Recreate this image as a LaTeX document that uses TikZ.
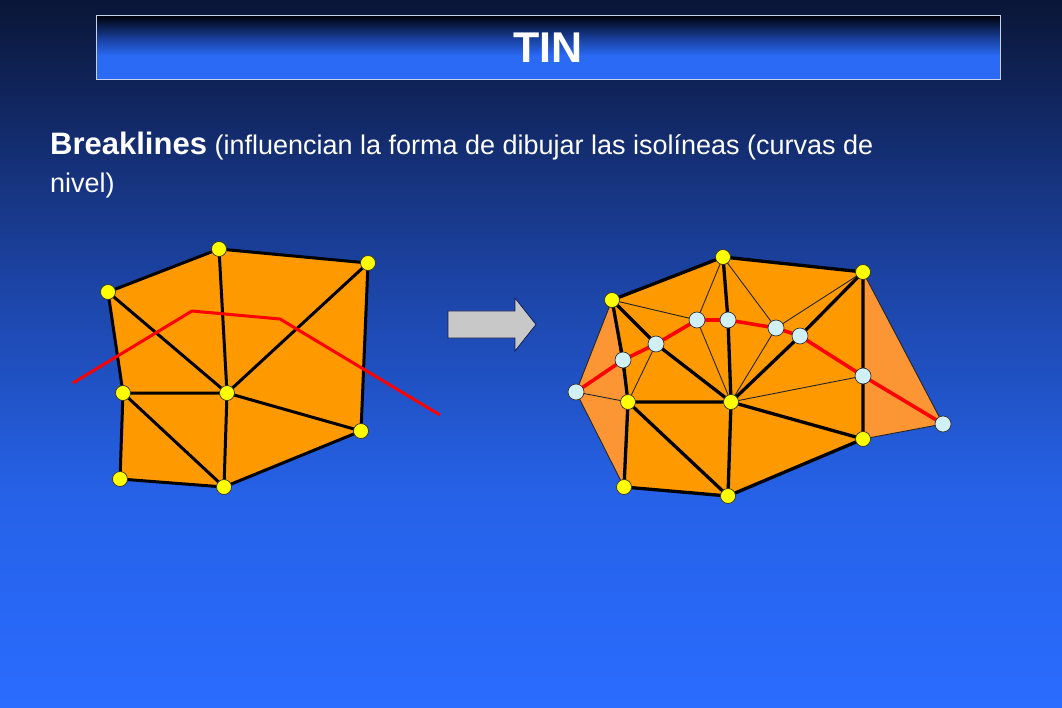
\documentclass[tikz,border=0pt]{standalone}
\usepackage{fontspec}
\setmainfont{Liberation Sans}
\definecolor{bgA}{RGB}{42,108,255}
\definecolor{bgB}{RGB}{38,98,232}
\definecolor{bgC}{RGB}{28,68,165}
\definecolor{bgD}{RGB}{18,40,100}
\definecolor{bgE}{RGB}{10,22,55}
\definecolor{tiBlue}{RGB}{42,106,245}
\definecolor{tiMid}{RGB}{25,65,160}
\definecolor{tiTop}{RGB}{0,2,12}
\definecolor{meshOrange}{RGB}{255,153,0}
\definecolor{meshLight}{RGB}{252,150,52}
\definecolor{vYellow}{RGB}{255,255,0}
\definecolor{vBlue}{RGB}{208,240,246}
\definecolor{arrowGray}{RGB}{200,200,200}
\definecolor{arrowEdge}{RGB}{20,30,80}
\definecolor{titleEdge}{RGB}{200,210,235}
\pgfdeclareverticalshading{bgshade}{100bp}{color(0bp)=(bgA); color(25bp)=(bgA); color(40bp)=(bgB); color(55bp)=(bgC); color(67bp)=(bgD); color(75bp)=(bgE); color(100bp)=(bgE)}
\pgfdeclareverticalshading{titleshade}{100bp}{color(0bp)=(tiBlue); color(25bp)=(tiBlue); color(44bp)=(tiBlue); color(57bp)=(tiMid); color(75bp)=(tiTop); color(100bp)=(tiTop)}
\tikzset{
  yv/.style={circle, fill=vYellow, draw=black!80, line width=0.7pt, minimum size=15pt, inner sep=0pt},
  bv/.style={circle, fill=vBlue, draw=black!80, line width=0.7pt, minimum size=16pt, inner sep=0pt},
  thickedge/.style={line width=3pt, black, line join=round},
  thinedge/.style={line width=0.9pt, black!85},
  breakline/.style={line width=3pt, red, line join=round},
  breaklineR/.style={line width=3.6pt, red, line join=round},
  titlebox/.style={shading=titleshade, draw=titleEdge, line width=1pt, minimum width=904pt, minimum height=64pt, inner sep=0pt, text=white, font=\fontsize{43}{50}\selectfont\bfseries},
  bodytext/.style={anchor=base west, inner sep=0pt, text=white, font=\fontsize{27}{32}\selectfont},
}
\begin{document}
\begin{tikzpicture}[x=1pt,y=-1pt]
\useasboundingbox (0,0) rectangle (1062,708);
\shade[shading=bgshade] (0,0) rectangle (1062,708);

% title
\node[titlebox] (title) at (548,48) {TIN};

% text
\node[bodytext] (line1) at (50,154.5) {{\fontsize{31}{36}\selectfont\bfseries Breaklines} (influencian la forma de dibujar las isolíneas (curvas de};
\node[bodytext] (line2) at (50,192.5) {nivel)};

% ---------- left TIN ----------
\coordinate (A) at (108,292);
\coordinate (B) at (219,249);
\coordinate (C) at (368,263);
\coordinate (D) at (123,393);
\coordinate (E) at (227,393);
\coordinate (F) at (361,431);
\coordinate (G) at (120,479);
\coordinate (H) at (224,487);
\fill[meshOrange] (A) -- (B) -- (C) -- (F) -- (H) -- (G) -- (D) -- cycle;
\draw[thickedge] (A) -- (B) -- (C) -- (F) -- (H) -- (G) -- (D) -- cycle;
\draw[thickedge] (A) -- (E) (B) -- (E) (C) -- (E) (D) -- (E) (E) -- (F) (E) -- (H) (D) -- (H);
\coordinate (r1) at (73,383);
\coordinate (r2) at (192,311);
\coordinate (r3) at (280,319);
\coordinate (r4) at (440,415);
\draw[breakline] (r1) -- (r2) -- (r3) -- (r4);
\foreach \n in {A,B,C,D,E,F,G,H} \node[yv] (v\n) at (\n) {};

% arrow
\draw[fill=arrowGray, draw=arrowEdge, line width=0.8pt, line join=miter]
  (448,311) -- (515,311) -- (515,298) -- (536,324.5) -- (515,351) -- (515,338) -- (448,338) -- cycle;

% ---------- right TIN ----------
\coordinate (a) at (612,300);
\coordinate (b) at (723,257);
\coordinate (c) at (863,272);
\coordinate (d) at (628,402);
\coordinate (e) at (731,402);
\coordinate (f) at (863,439);
\coordinate (g) at (624,487);
\coordinate (h) at (728,496);
\coordinate (p1) at (576,392);
\coordinate (p2) at (623,360);
\coordinate (p3) at (656,344);
\coordinate (p4) at (697,320);
\coordinate (p5) at (728,320);
\coordinate (p6) at (776,328);
\coordinate (p7) at (800,336);
\coordinate (p8) at (863,376);
\coordinate (p9) at (943,424);

\filldraw[fill=meshLight, draw=black!85, line width=0.9pt] (a) -- (p1) -- (g) -- (d) -- cycle;
\filldraw[fill=meshLight, draw=black!85, line width=0.9pt] (c) -- (p9) -- (f) -- cycle;
\fill[meshOrange] (a) -- (b) -- (c) -- (f) -- (h) -- (g) -- (d) -- (p2) -- cycle;

\draw[thinedge] (a) -- (p4) (b) -- (p4) (b) -- (p6) (c) -- (p6) (p4) -- (e) (p6) -- (e)
  (p3) -- (d) (p1) -- (d) (p8) -- (e);
\draw[thickedge, line width=3.3pt] (a) -- (b) -- (c) -- (p8) -- (f) -- (h) -- (g) -- (d) -- (p2) -- cycle;
\draw[thickedge, line width=3.3pt] (a) -- (p3) -- (e) (b) -- (p5) -- (e) (c) -- (p7) -- (e)
  (d) -- (e) (e) -- (f) (e) -- (h) (d) -- (h);
\draw[breaklineR] (p1) -- (p2) -- (p3) -- (p4) -- (p5) -- (p6) -- (p7) -- (p8) -- (p9);
\foreach \n in {a,b,c,d,e,f,g,h} \node[yv] (w\n) at (\n) {};
\foreach \n in {p1,p2,p3,p4,p5,p6,p7,p8,p9} \node[bv] (w\n) at (\n) {};
\end{tikzpicture}
\end{document}
